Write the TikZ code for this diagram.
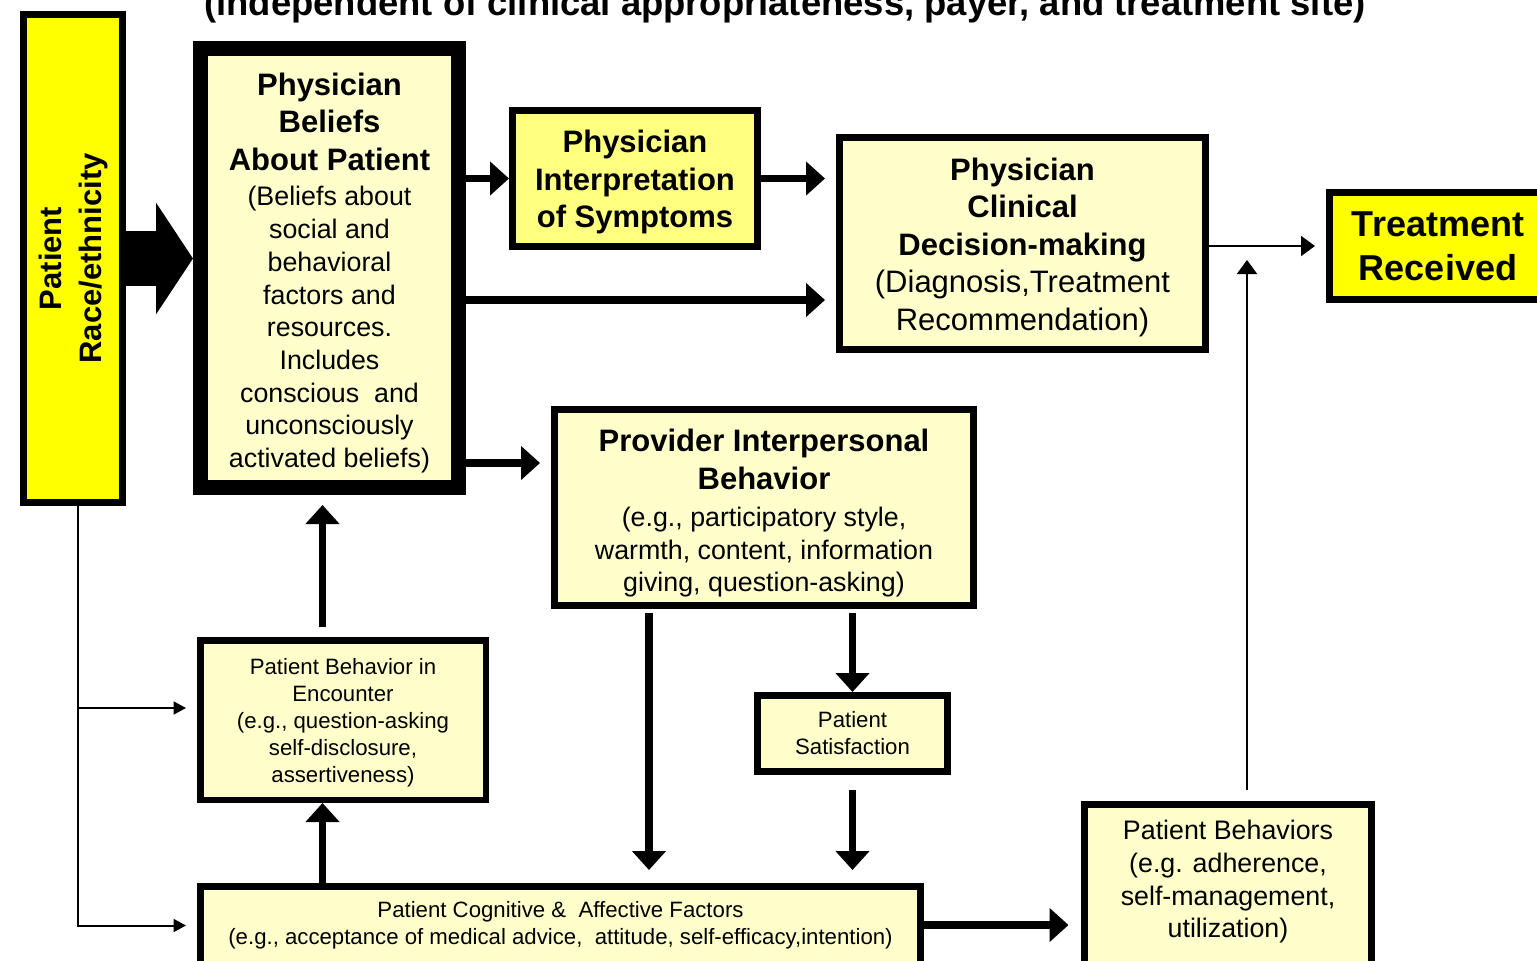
\documentclass[tikz,border=0pt]{standalone}
\usepackage{fontspec}
\setmainfont{Liberation Sans}
\usetikzlibrary{arrows.meta}
\definecolor{boxfill}{HTML}{FFFFCC}
\definecolor{keyfill}{HTML}{FFFF80}
\definecolor{hotfill}{HTML}{FFFF00}
\newcommand{\hd}[1]{{\fontsize{15.5}{18.75}\selectfont\bfseries #1}}
\newcommand{\up}[1]{\rule{0pt}{#1}}
\newcommand{\down}[1]{\rule[-#1]{0pt}{#1}}

\begin{document}
\begin{tikzpicture}[x=0.5pt,y=-0.5pt,
		box/.style={draw,line width=3.5pt,fill=boxfill,inner sep=0pt,align=center},
		headfont/.style={font=\fontsize{15.5}{18.75}\selectfont\bfseries},
		bodyfont/.style={font=\fontsize{13.4}{16.35}\selectfont},
		smallfont/.style={font=\fontsize{11.1}{13.5}\selectfont},
		thickarrow/.style={line width=3.75pt,-{Triangle[length=9.5pt,width=16.5pt]}},
		thinarrow/.style={line width=1pt,-{Triangle[length=7pt,width=10pt]}},
		fatarrow/.style={line width=27.5pt,-{Triangle[length=18.5pt,width=55pt]}}]
			\useasboundingbox (0,0) rectangle (1537,960);
			\clip (0,0) rectangle (1537,960);
			\node[font=\fontsize{18.2}{22}\selectfont\bfseries,anchor=base] (title) at (785,15)
				{(independent of clinical appropriateness, payer, and treatment site)};
			\node[box,fill=hotfill,minimum width=49.5pt,minimum height=244pt] (race) at (73,258.5) {};
			\node[rotate=90,align=center,font=\fontsize{15.5}{20}\selectfont\bfseries] (racelbl) at (race)
				{Patient\\Race/ethnicity};
			\node[box,line width=7.5pt,bodyfont,minimum width=129pt,minimum height=219.5pt] (beliefs) at (329.5,268)
				{\hd{\up{16.1pt}Physician}\\[2.4pt]\hd{Beliefs}\\[2.4pt]\hd{About Patient}\\[1.6pt]
				(Beliefs about\\social and\\behavioral\\factors and\\resources.\\Includes\\
				conscious~ and\\unconsciously\\activated beliefs)};
			\node[box,fill=keyfill,headfont,minimum width=122.5pt,minimum height=68pt] (interp) at (635,178.5)
				{\up{15.1pt}Physician\\Interpretation\\of Symptoms};
			\node[box,headfont,minimum width=183pt,minimum height=106pt] (decision) at (1022.5,243.5)
				{\up{15.1pt}Physician\\Clinical\\Decision-making\\{\mdseries (Diagnosis,Treatment}\\{\mdseries Recommendation)}};
			\node[box,fill=hotfill,font=\fontsize{18}{22}\selectfont\bfseries,minimum width=108.5pt,minimum height=53.5pt] (treat) at (1438,246)
				{Treatment\\Received};
			\node[box,bodyfont,minimum width=209.5pt,minimum height=98pt] (provider) at (764,507.5)
				{\hd{\up{17.1pt}Provider Interpersonal}\\[2.4pt]\hd{Behavior}\\[2.2pt]
				(e.g., participatory style,\\warmth, content, information\\giving, question-asking)};
			\node[box,line width=3.25pt,smallfont,minimum width=142.75pt,minimum height=79.75pt] (enc) at (343,720)
				{\up{11.1pt}Patient Behavior in\\Encounter\\(e.g., question-asking\\self-disclosure,\\assertiveness)};
			\node[box,smallfont,minimum width=95pt,minimum height=38pt] (sat) at (852.5,733.5)
				{Patient\\Satisfaction};
			\node[box,smallfont,minimum width=360pt,minimum height=45pt] (cog) at (560.5,931.5)
				{Patient Cognitive \&~ Affective Factors\\(e.g., acceptance of medical advice,~ attitude, self-efficacy,intention)\down{8.8pt}};
			\node[box,bodyfont,minimum width=143.5pt,minimum height=82.5pt] (behav) at (1228,887)
				{Patient Behaviors\\(e.g. adherence,\\self-management,\\utilization)\down{7.8pt}};

			\draw[fatarrow] (race.east) -- (race.east -| beliefs.west);
			\draw[thickarrow] (beliefs.east |- interp.west) -- (interp.west);
			\draw[thickarrow,shorten >=5.5pt] (interp.east) -- (interp.east -| decision.west);
			\coordinate (dlow) at ([yshift=-28.25pt]decision.west);
			\draw[thickarrow,shorten >=5.5pt] (beliefs.east |- dlow) -- (dlow);
			\coordinate (pin) at ([yshift=22.25pt]provider.west);
			\draw[thickarrow,shorten >=5.5pt] (beliefs.east |- pin) -- (pin);
			\draw[thinarrow,shorten >=5.5pt] (decision.east |- treat.west) -- (treat.west);
			\coordinate (bup) at ([xshift=9.5pt]behav.north);
			\draw[thinarrow,shorten <=5.5pt,shorten >=7pt] (bup) -- (bup |- treat.west);
			\coordinate (pdown) at ([xshift=-57.5pt]provider.south);
			\draw[thickarrow,shorten <=2pt] (pdown) -- ([yshift=6.5pt]pdown |- cog.north);
			\draw[thickarrow,shorten <=2pt] (provider.south -| sat.north) -- (sat.north);
			\draw[thickarrow,shorten <=7.5pt] (sat.south) -- ([yshift=6.5pt]sat.south |- cog.north);
			\coordinate (cout) at ([yshift=3.25pt]cog.east);
			\draw[thickarrow,shorten >=6.25pt] (cout) -- (cout -| behav.west);
			\coordinate (cup) at ([xshift=-119pt]cog.north);
			\draw[thickarrow] (cup) -- (cup |- enc.south);
			\draw[thickarrow,shorten <=5pt,shorten >=5pt] (cup |- enc.north) -- (cup |- beliefs.south);
			\coordinate (rdown) at ([xshift=2.5pt]race.south);
			\coordinate (ein) at ([yshift=6pt]enc.west);
			\coordinate (cin) at ([yshift=3pt]cog.west);
			\draw[thinarrow,-{Triangle[length=6.25pt,width=6.5pt]},shorten >=5.5pt] (rdown) |- (cin);
			\draw[thinarrow,-{Triangle[length=6.25pt,width=6.5pt]},shorten >=5.5pt] (rdown |- ein) -- (ein);
\end{tikzpicture}
\end{document}
